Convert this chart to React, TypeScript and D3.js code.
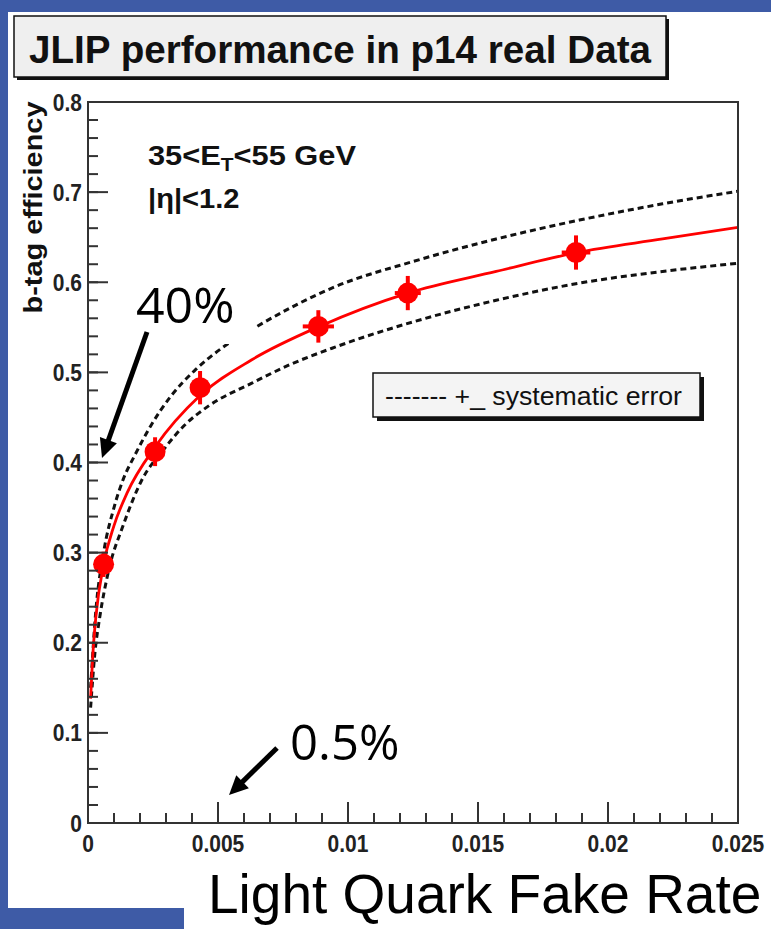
import React from 'react';
import * as d3 from 'd3';

// ---- data ----
const pointX = [0.0006, 0.00258, 0.00431, 0.00886, 0.0123, 0.01877];
const pointY = [0.287, 0.412, 0.483, 0.551, 0.588, 0.633];
const pointYErr = [0.014, 0.016, 0.0185, 0.018, 0.019, 0.019];
const pointXErr = [0.0002, 0.0003, 0.0003, 0.0006, 0.0005, 0.00055];

const fitX = [0.0001, 0.0002, 0.0003, 0.0006, 0.001, 0.0015, 0.0026, 0.0043, 0.0063, 0.0089, 0.0123, 0.0157, 0.0188, 0.0221, 0.025];
const fitY = [0.138, 0.193, 0.228, 0.287, 0.330, 0.366, 0.418, 0.474, 0.514, 0.551, 0.588, 0.612, 0.633, 0.648, 0.661];

const upperX = [0.0001, 0.0003, 0.0006, 0.001, 0.00135, 0.0018, 0.0024, 0.0032, 0.0041, 0.0052, 0.0065, 0.0095, 0.0125, 0.0157, 0.0189, 0.0221, 0.025];
const upperY = [0.150, 0.235, 0.300, 0.350, 0.381, 0.408, 0.440, 0.474, 0.502, 0.528, 0.551, 0.595, 0.623, 0.648, 0.669, 0.687, 0.701];

const lowerX = [0.0001, 0.00027, 0.00045, 0.00081, 0.00135, 0.00206, 0.0029, 0.0037, 0.0046, 0.0063, 0.0078, 0.0095, 0.0125, 0.0157, 0.0189, 0.0221, 0.025];
const lowerY = [0.128, 0.190, 0.228, 0.282, 0.330, 0.380, 0.414, 0.441, 0.462, 0.488, 0.509, 0.528, 0.556, 0.580, 0.599, 0.612, 0.621];

const xTickValues = [0, 0.005, 0.01, 0.015, 0.02, 0.025];
const xTickLabels = ['0', '0.005', '0.01', '0.015', '0.02', '0.025'];
const yTickValues = [0, 0.1, 0.2, 0.3, 0.4, 0.5, 0.6, 0.7, 0.8];
const yTickLabels = ['0', '0.1', '0.2', '0.3', '0.4', '0.5', '0.6', '0.7', '0.8'];

const titleText = 'JLIP performance in p14 real Data';
const yAxisTitle = 'b-tag efficiency';
const xAxisTitle = 'Light Quark Fake Rate';
const legendText = '------- +_ systematic error';

const W = 771;
const H = 929;
const BLUE = '#3e5ba6';
const ARIAL = '"Liberation Sans", Arial, sans-serif';
const COMIC = '"Open Sans", "DejaVu Sans", sans-serif';

function Arrow({ x1, y1, x2, y2 }: { x1: number; y1: number; x2: number; y2: number }) {
  const dx = x2 - x1;
  const dy = y2 - y1;
  const len = Math.hypot(dx, dy);
  const ux = dx / len;
  const uy = dy / len;
  const hl = 19;
  const hw = 9;
  const bx = x2 - ux * hl;
  const by = y2 - uy * hl;
  const px = -uy;
  const py = ux;
  return (
    <g>
      <line x1={x1} y1={y1} x2={bx + ux * 2} y2={by + uy * 2} stroke="#000" strokeWidth={5} />
      <polygon
        points={`${x2},${y2} ${bx + px * hw},${by + py * hw} ${bx - px * hw},${by - py * hw}`}
        fill="#000"
      />
    </g>
  );
}

export default function App() {
  const x = d3.scaleLinear().domain([0, 0.025]).range([88, 738]);
  const y = d3.scaleLinear().domain([0, 0.8]).range([823, 102]);
  const line = d3
    .line<[number, number]>()
    .x((d) => x(d[0]))
    .y((d) => y(d[1]))
    .curve(d3.curveMonotoneX);

  const fitPath = line(fitX.map((v, i) => [v, fitY[i]] as [number, number])) || '';
  const upperPath = line(upperX.map((v, i) => [v, upperY[i]] as [number, number])) || '';
  const lowerPath = line(lowerX.map((v, i) => [v, lowerY[i]] as [number, number])) || '';

  const xMinor = x.ticks(25);
  const yMinor = y.ticks(40);
  const [x0, x1] = x.range();
  const [y0, y1] = y.range();

  return (
    <svg
      width={W}
      height={H}
      viewBox={`0 0 ${W} ${H}`}
      style={{ position: 'absolute', left: 0, top: 0, display: 'block' }}
    >
      <defs>
        <clipPath id="plotClip">
          <rect x={x0} y={y1} width={x1 - x0} height={y0 - y1} />
        </clipPath>
      </defs>
      {/* slide background */}
      <rect x={0} y={0} width={W} height={H} fill={BLUE} />
      <rect x={8} y={12} width={W - 8} height={H - 12} fill="#fff" />
      <rect x={0} y={908} width={184} height={H - 908} fill={BLUE} />

      {/* title box */}
      <rect x={17} y={19} width={652} height={61} fill="#111" />
      <rect x={14} y={16} width={652} height={61} fill="#efefef" stroke="#111" strokeWidth={1.5} />
      <text
        x={29}
        y={63}
        fontFamily={ARIAL}
        fontWeight="bold"
        fontSize={39}
        textLength={622}
        lengthAdjust="spacingAndGlyphs"
        fill="#111"
      >
        {titleText}
      </text>

      {/* curves */}
      <g clipPath="url(#plotClip)">
        <path d={upperPath} fill="none" stroke="#111" strokeWidth={3} strokeDasharray="6,4" />
        <path d={lowerPath} fill="none" stroke="#111" strokeWidth={3} strokeDasharray="6,4" />
        <path d={fitPath} fill="none" stroke="#ff0000" strokeWidth={2.8} />
      </g>

      {/* data points */}
      <g>
        {pointX.map((v, i) => (
          <g key={i}>
            <line
              x1={x(v)}
              x2={x(v)}
              y1={y(pointY[i] - pointYErr[i])}
              y2={y(pointY[i] + pointYErr[i])}
              stroke="#ff0000"
              strokeWidth={4}
            />
            <line
              x1={x(v - pointXErr[i])}
              x2={x(v + pointXErr[i])}
              y1={y(pointY[i])}
              y2={y(pointY[i])}
              stroke="#ff0000"
              strokeWidth={4}
            />
            <circle cx={x(v)} cy={y(pointY[i])} r={10.5} fill="#ff0000" />
          </g>
        ))}
      </g>

      {/* frame and ticks */}
      <rect x={x0} y={y1} width={x1 - x0} height={y0 - y1} fill="none" stroke="#333" strokeWidth={2} />
      {yMinor.map((t, i) => (
        <line key={'ym' + i} x1={x0} x2={x0 + 10} y1={y(t)} y2={y(t)} stroke="#333" strokeWidth={2} />
      ))}
      {yTickValues.map((t, i) => (
        <line key={'yM' + i} x1={x0} x2={x0 + 20} y1={y(t)} y2={y(t)} stroke="#333" strokeWidth={2} />
      ))}
      {xMinor.map((t, i) => (
        <line key={'xm' + i} x1={x(t)} x2={x(t)} y1={y0} y2={y0 - 10} stroke="#333" strokeWidth={2} />
      ))}
      {xTickValues.map((t, i) => (
        <line key={'xM' + i} x1={x(t)} x2={x(t)} y1={y0} y2={y0 - 21} stroke="#333" strokeWidth={2} />
      ))}
      {yTickValues.map((t, i) => (
        <text
          key={'yl' + i}
          transform={`translate(82, ${y(t) + 8.5}) scale(1, 1.12)`}
          textAnchor="end"
          fontFamily={ARIAL}
          fontWeight="bold"
          fontSize={21}
          fill="#222"
        >
          {yTickLabels[i]}
        </text>
      ))}
      {xTickValues.map((t, i) => (
        <text
          key={'xl' + i}
          transform={`translate(${x(t)}, 852) scale(1, 1.12)`}
          textAnchor="middle"
          fontFamily={ARIAL}
          fontWeight="bold"
          fontSize={21}
          fill="#222"
        >
          {xTickLabels[i]}
        </text>
      ))}

      {/* y axis title */}
      <text
        transform={`translate(42, ${(y1 + 313) / 2}) rotate(-90)`}
        textAnchor="middle"
        fontFamily={ARIAL}
        fontWeight="bold"
        fontSize={25}
        textLength={212}
        lengthAdjust="spacingAndGlyphs"
        fill="#111"
      >
        {yAxisTitle}
      </text>

      {/* cut labels */}
      <text
        transform="translate(148, 165) scale(1.1, 1)"
        fontFamily={ARIAL}
        fontWeight="bold"
        fontSize={28}
        fill="#111"
      >
        35&lt;E<tspan fontSize={19} dy={6}>T</tspan>
        <tspan dy={-6}>&lt;55 GeV</tspan>
      </text>
      <text
        transform="translate(148, 208) scale(1.04, 1)"
        fontFamily={ARIAL}
        fontWeight="bold"
        fontSize={28}
        fill="#111"
      >
        |η|&lt;1.2
      </text>

      {/* legend */}
      <rect x={377} y={377} width={327} height={44} fill="#111" />
      <rect x={373} y={373} width={327} height={44} fill="#f4f4f4" stroke="#111" strokeWidth={1.5} />
      <text x={385} y={405} fontFamily={ARIAL} fontSize={26} textLength={297} lengthAdjust="spacingAndGlyphs" fill="#111">
        {legendText}
      </text>

      {/* annotations */}
      <rect x={117} y={267} width={138} height={77} fill="#fff" />
      <text x={136} y={323} fontFamily={COMIC} fontSize={50} fill="#000">
        40%
      </text>
      <Arrow x1={147} y1={332} x2={102} y2={458} />

      <text x={290} y={760} fontFamily={COMIC} fontSize={49} fill="#000">
        0.5%
      </text>
      <Arrow x1={277} y1={748} x2={229} y2={795} />

      <text x={208} y={913} fontFamily={ARIAL} fontSize={55} fill="#000">
        {xAxisTitle}
      </text>
    </svg>
  );
}
